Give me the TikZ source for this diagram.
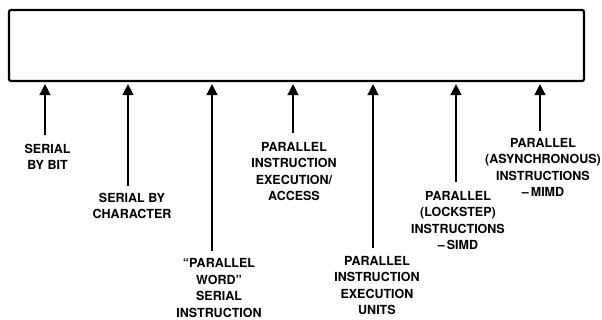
\documentclass[tikz,border=0pt]{standalone}
\usepackage{fontspec}
\setmainfont{TeX Gyre Heros}
\usetikzlibrary{arrows.meta}
\begin{document}
\begin{tikzpicture}[x=1pt,y=-1pt,
  frame/.style={draw,line width=2.2pt,rounded corners=2pt,minimum width=575pt,minimum height=71pt,inner sep=0pt},
  feed/.style={line width=1.6pt,-{Triangle[length=11pt,width=11pt]},shorten >=2pt},
  lbl/.style={anchor=north,align=center,inner sep=0pt,font=\bfseries\fontsize{12.5}{16.4}\selectfont}]
\useasboundingbox (0,0) rectangle (602,320);
\node[frame] (box) at (296.5,45.5) {};
% lower ends of the feed lines
\coordinate (e1) at (45,135);
\coordinate (e2) at (128,186);
\coordinate (e3) at (212,251);
\coordinate (e4) at (293,133);
\coordinate (e5) at (373,248);
\coordinate (e6) at (456,182);
\coordinate (e7) at (540,131);
\foreach \i in {1,...,7} \draw[feed] (e\i) -- (e\i |- box.south);
% labels
\node[lbl] (l1) at (47.5,144) {SERIAL\\BY BIT};
\node[lbl] (l2) at (132,193) {SERIAL BY\\CHARACTER};
\node[lbl] (l3) at (219,258.5) {“PARALLEL\\WORD”\\SERIAL\\INSTRUCTION};
\node[lbl] (l4) at (294,142) {PARALLEL\\INSTRUCTION\\EXECUTION/\\ACCESS};
\node[lbl] (l5) at (377,256) {PARALLEL\\INSTRUCTION\\EXECUTION\\UNITS};
\node[lbl] (l6) at (458,191) {PARALLEL\\(LOCKSTEP)\\INSTRUCTIONS\\–\,SIMD};
\node[lbl] (l7) at (543,138) {PARALLEL\\(ASYNCHRONOUS)\\INSTRUCTIONS\\–\,MIMD};
\end{tikzpicture}
\end{document}
